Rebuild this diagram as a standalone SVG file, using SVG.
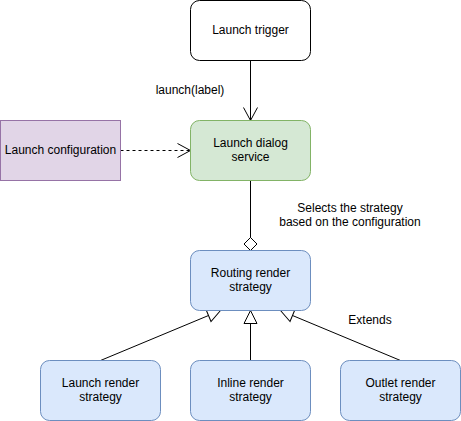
<svg xmlns="http://www.w3.org/2000/svg" width="461" height="421" viewBox="0 0 461 421">
<style>
text{font-family:"Liberation Sans",Arial,Helvetica,sans-serif;font-size:12px;fill:#000;text-anchor:middle}
.ln{stroke:#000;stroke-width:1;fill:none}
.blue{fill:#dae8fc;stroke:#6c8ebf;stroke-width:1}
</style>
<defs>
<marker id="open" markerUnits="userSpaceOnUse" markerWidth="16" markerHeight="18" refX="14" refY="8" orient="auto" overflow="visible">
<path d="M1,1 L14,8 L1,15" fill="none" stroke="#000" stroke-width="1"/>
</marker>
<marker id="tri" markerUnits="userSpaceOnUse" markerWidth="16" markerHeight="16" refX="14" refY="7.5" orient="auto" overflow="visible">
<path d="M1,1 L14,7.5 L1,14 Z" fill="#fff" stroke="#000" stroke-width="1"/>
</marker>
<marker id="dia" markerUnits="userSpaceOnUse" markerWidth="16" markerHeight="16" refX="14" refY="7" orient="auto" overflow="visible">
<path d="M1,7 L7.5,0.5 L14,7 L7.5,13.5 Z" fill="#fff" stroke="#000" stroke-width="1"/>
</marker>
</defs>
<rect width="461" height="421" fill="#fff"/>
<g id="connectors">
<line class="ln" x1="250.5" y1="60.5" x2="250.5" y2="120.5" marker-end="url(#open)"/>
<line class="ln" x1="120.5" y1="150.5" x2="190.5" y2="150.5" stroke-dasharray="3 3" marker-end="url(#open)"/>
<line class="ln" x1="250.5" y1="180.5" x2="250.5" y2="250.5" marker-end="url(#dia)"/>
<line class="ln" x1="100.5" y1="360.5" x2="220.5" y2="310.5" marker-end="url(#tri)"/>
<line class="ln" x1="250.5" y1="360.5" x2="250.5" y2="310.5" marker-end="url(#tri)"/>
<line class="ln" x1="400.5" y1="360.5" x2="280.5" y2="310.5" marker-end="url(#tri)"/>
<text x="190" y="94">launch(label)</text>
<text x="350" y="211.5">Selects the strategy</text>
<text x="350" y="226">based on the configuration</text>
<text x="370" y="323.5">Extends</text>
</g>
<g id="trigger">
<rect x="190.5" y="0.5" width="120" height="60" rx="9" fill="#fff" stroke="#000"/>
<text x="250.5" y="34">Launch trigger</text>
</g>
<g id="service">
<rect x="190.5" y="120.5" width="120" height="60" rx="9" fill="#d5e8d4" stroke="#82b366"/>
<text x="250.5" y="147">Launch dialog</text>
<text x="250.5" y="160.5">service</text>
</g>
<g id="config">
<rect x="0.5" y="120.5" width="120" height="60" fill="#e1d5e7" stroke="#9673a6"/>
<text x="60.5" y="154">Launch configuration</text>
</g>
<g id="routing">
<rect class="blue" x="190.5" y="250.5" width="120" height="60" rx="9"/>
<text x="250.5" y="277">Routing render</text>
<text x="250.5" y="291">strategy</text>
</g>
<g id="launch-render">
<rect class="blue" x="40.5" y="360.5" width="120" height="60" rx="9"/>
<text x="100.5" y="387">Launch render</text>
<text x="100.5" y="401">strategy</text>
</g>
<g id="inline-render">
<rect class="blue" x="190.5" y="360.5" width="120" height="60" rx="9"/>
<text x="250.5" y="387">Inline render</text>
<text x="250.5" y="401">strategy</text>
</g>
<g id="outlet-render">
<rect class="blue" x="340.5" y="360.5" width="120" height="60" rx="9"/>
<text x="400.5" y="387">Outlet render</text>
<text x="400.5" y="401">strategy</text>
</g>
</svg>
